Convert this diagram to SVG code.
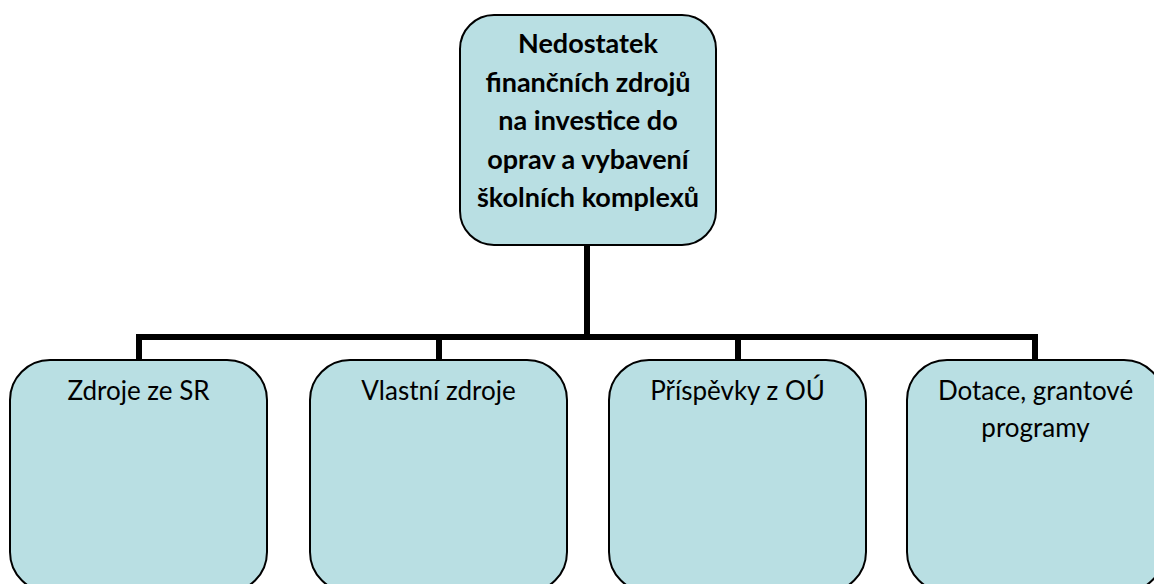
<svg xmlns="http://www.w3.org/2000/svg" width="1154" height="584" viewBox="0 0 1154 584">
<style>
.box{fill:#B9DFE3;stroke:#000;stroke-width:2}
.t{font-family:Lato,"Open Sans","Liberation Sans",sans-serif;font-size:26px;fill:#000;text-anchor:middle}
.b{font-weight:bold;font-size:27px}
.conn{fill:none;stroke:#000;stroke-width:6}
</style>
<rect width="1154" height="584" fill="#fff"/>
<g id="connectors">
<path class="conn" d="M587,246 V337"/>
<path class="conn" d="M139,360 V337 H1035 V360"/>
<path class="conn" d="M439,337 V360"/>
<path class="conn" d="M738,337 V360"/>
</g>
<g id="node-top">
<rect class="box" x="460" y="15" width="256" height="230" rx="34" ry="34"/>
<text class="t b" x="588" y="53">Nedostatek</text>
<text class="t b" x="588" y="91.5">finančních zdrojů</text>
<text class="t b" x="588" y="130">na investice do</text>
<text class="t b" x="588" y="168.5">oprav a vybavení</text>
<text class="t b" x="588" y="207">školních komplexů</text>
</g>
<g id="node-sr">
<rect class="box" x="10" y="360" width="257" height="232" rx="40" ry="40"/>
<text class="t" x="138.5" y="400">Zdroje ze SR</text>
</g>
<g id="node-vlastni">
<rect class="box" x="310" y="360" width="257" height="232" rx="40" ry="40"/>
<text class="t" x="438.5" y="400">Vlastní zdroje</text>
</g>
<g id="node-ou">
<rect class="box" x="609" y="360" width="257" height="232" rx="40" ry="40"/>
<text class="t" x="737.5" y="400">Příspěvky z OÚ</text>
</g>
<g id="node-dotace">
<rect class="box" x="907" y="360" width="257" height="232" rx="40" ry="40"/>
<text class="t" x="1035.5" y="400">Dotace, grantové</text>
<text class="t" x="1035.5" y="437">programy</text>
</g>
</svg>
